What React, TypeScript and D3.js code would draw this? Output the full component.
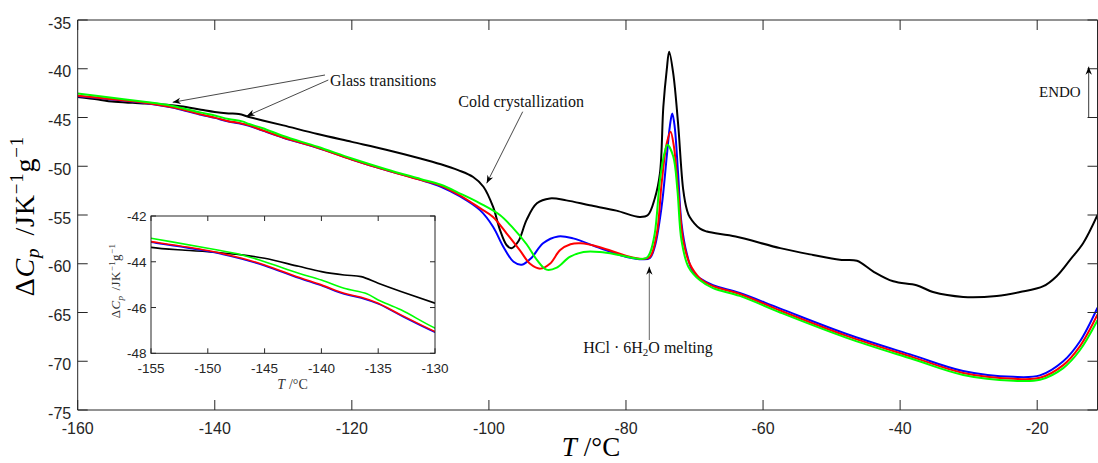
import React from "react";
import * as d3 from "d3";

// ---------- data ----------
const xTicks = [-160, -140, -120, -100, -80, -60, -40, -20];
const yTicks = [-75, -70, -65, -60, -55, -50, -45, -40, -35];
const insetXTicks = [-155, -150, -145, -140, -135, -130];
const insetYTicks = [-48, -46, -44, -42];

const blackT = [-160, -157, -155, -152, -150, -147, -145, -142, -140, -138, -136.5, -135, -133, -130, -125, -120, -115, -110, -107, -104.5, -102.3, -100.8, -99.4, -98.4, -97.4, -96.7, -95.7, -94.5, -93.0, -91.1, -88.7, -85.3, -81.4, -78.0, -76.8, -75.8, -75.04, -74.55, -74.05, -73.7, -73.1, -72.4, -71.65, -71.1, -70.7, -69.2, -68.2, -64.0, -57.5, -52.7, -48.8, -46.3, -43.9, -41.0, -37.6, -35.2, -30.8, -25.9, -22.5, -19.1, -17.2, -15.2, -13.3, -11.2];
const blackCp = [-42.9, -43.15, -43.37, -43.5, -43.56, -43.7, -43.85, -44.2, -44.43, -44.58, -44.65, -44.94, -45.3, -45.81, -46.7, -47.5, -48.3, -49.2, -49.8, -50.4, -51.1, -52.1, -54.15, -56.5, -58.1, -58.4, -57.7, -55.5, -53.8, -53.3, -53.5, -54.0, -54.55, -55.2, -55.0, -53.3, -50.7, -43.9, -40.1, -38.25, -40.5, -45.6, -52.4, -54.5, -55.2, -56.4, -56.7, -57.2, -58.4, -59.1, -59.6, -59.7, -60.8, -61.8, -62.2, -62.9, -63.4, -63.3, -62.9, -62.3, -61.3, -59.6, -57.9, -55.0];

const blueT = [-160, -155, -150, -147, -145, -142, -140, -138, -136.5, -135, -133, -130, -125, -120, -115, -110, -107, -104.2, -101.3, -99.4, -97.9, -96.4, -95.2, -93.8, -92.1, -89.9, -87.7, -83.8, -79.9, -77.5, -76.5, -75.8, -74.8, -74.05, -73.6, -73.25, -72.9, -72.4, -71.9, -71.15, -70.2, -69.2, -67.3, -63.4, -57.5, -47.8, -38.1, -30.8, -23.5, -19.6, -16.2, -13.8, -11.2];
const blueCp = [-42.82, -43.15, -43.54, -43.88, -44.17, -44.71, -45.04, -45.41, -45.58, -45.84, -46.35, -47.08, -48.1, -49.3, -50.4, -51.4, -52.1, -53.1, -54.5, -56.2, -58.25, -59.8, -60.1, -59.4, -57.9, -57.2, -57.4, -58.4, -59.3, -59.55, -59.4, -58.25, -54.15, -49.0, -45.9, -44.6, -45.9, -50.7, -55.85, -58.9, -60.9, -61.5, -62.2, -63.0, -64.6, -67.2, -69.4, -71.0, -71.6, -71.45, -70.0, -68.0, -64.5];

const redT = [-160, -155, -150, -147, -145, -142, -140, -138, -136.5, -135, -133, -130, -125, -120, -115, -110, -107, -104.2, -101.3, -99.4, -97.4, -95.5, -94.0, -92.5, -91.1, -89.6, -88.1, -86.6, -83.8, -79.9, -77.5, -76.5, -75.5, -74.8, -74.05, -73.5, -73.0, -72.4, -71.65, -70.7, -69.2, -67.3, -63.4, -57.5, -47.8, -38.1, -30.8, -23.5, -19.6, -16.2, -13.8, -11.2];
const redCp = [-42.78, -43.12, -43.51, -43.85, -44.14, -44.68, -45.01, -45.38, -45.55, -45.81, -46.32, -47.05, -48.1, -49.3, -50.4, -51.4, -52.0, -53.0, -54.3, -55.2, -56.9, -58.6, -60.0, -60.5, -60.0, -58.6, -58.0, -57.9, -58.3, -59.2, -59.5, -59.3, -56.9, -51.75, -47.65, -46.45, -48.0, -52.4, -57.6, -60.0, -61.5, -62.3, -63.1, -64.8, -67.4, -69.6, -71.2, -71.8, -71.7, -70.4, -68.5, -65.2];

const greenT = [-160, -155, -150, -147, -145, -142, -140, -138, -136, -135, -133, -130, -125, -120, -115, -110, -107, -104.2, -101.3, -98.4, -96.4, -94.5, -93.0, -91.6, -90.1, -88.2, -86.2, -83.8, -81.0, -78.0, -77.0, -76.5, -75.8, -75.04, -74.4, -73.95, -73.1, -72.5, -71.9, -70.9, -69.2, -67.3, -63.4, -57.5, -47.8, -38.1, -30.8, -23.5, -19.6, -16.2, -13.8, -11.2];
const greenCp = [-42.55, -42.97, -43.41, -43.7, -44.0, -44.5, -44.8, -45.16, -45.4, -45.67, -46.1, -46.9, -48.0, -49.2, -50.3, -51.3, -51.9, -52.8, -53.8, -55.0, -56.4, -58.0, -59.6, -60.6, -60.4, -59.3, -58.8, -58.8, -59.1, -59.5, -59.4, -58.9, -56.9, -51.4, -48.7, -47.8, -49.0, -52.4, -57.6, -60.3, -61.7, -62.5, -63.3, -65.0, -67.6, -69.8, -71.4, -72.0, -71.9, -70.7, -68.9, -65.8];

const series = [
  { name: "black", T: blackT, v: blackCp, color: "#000000" },
  { name: "blue", T: blueT, v: blueCp, color: "#0000ff" },
  { name: "red", T: redT, v: redCp, color: "#ff0000" },
  { name: "green", T: greenT, v: greenCp, color: "#00ff00" },
];

// ---------- layout ----------
const W = 1098;
const H = 463;
const AX = "#262626";
const SANS = "Liberation Sans, Arial, Helvetica, sans-serif";
const SERIF = "Liberation Serif, Times New Roman, serif";

function arrowHead(x1: number, y1: number, x2: number, y2: number, len = 8, w = 3.2) {
  const dx = x2 - x1, dy = y2 - y1;
  const L = Math.hypot(dx, dy);
  const ux = dx / L, uy = dy / L;
  const nx = -uy, ny = ux;
  const bx = x2 - ux * len, by = y2 - uy * len;
  const nbx = x2 - ux * len * 0.7, nby = y2 - uy * len * 0.7;
  return `M${x2},${y2}L${bx + nx * w},${by + ny * w}L${nbx},${nby}L${bx - nx * w},${by - ny * w}Z`;
}

function Arrow({ x1, y1, x2, y2, color = "#333" }: any) {
  return (
    <g>
      <line x1={x1} y1={y1} x2={x2} y2={y2} stroke={color} strokeWidth={0.9} />
      <path d={arrowHead(x1, y1, x2, y2)} fill="#000" />
    </g>
  );
}

export default function App() {
  const x = d3.scaleLinear().domain([-160, -11.2]).range([77.7, 1097.5]);
  const y = d3.scaleLinear().domain([-75, -35]).range([410, 20]);
  const xi = d3.scaleLinear().domain([-155, -130]).range([151, 435]);
  const yi = d3.scaleLinear().domain([-48, -42]).range([353.3, 216]);

  const [x0, x1] = x.range();
  const [yb, yt] = y.range();
  const [ix0, ix1] = xi.range();
  const [iyb, iyt] = yi.range();

  const pathFor = (s: any, sx: any, sy: any) => {
    const pts: [number, number][] = s.T.map((t: number, i: number) => [sx(t), sy(s.v[i])]);
    return d3.line().curve(d3.curveCatmullRom.alpha(0.5))(pts) || "";
  };

  const tickLen = 10;
  const itick = 5;

  return (
    <svg
      width={W}
      height={H}
      style={{ position: "absolute", left: 0, top: 0, background: "#fff" }}
      xmlns="http://www.w3.org/2000/svg"
    >
      <rect x={0} y={0} width={W} height={H} fill="#fff" />
      <defs>
        <clipPath id="mainClip">
          <rect x={x0} y={yt} width={x1 - x0} height={yb - yt} />
        </clipPath>
        <clipPath id="insetClip">
          <rect x={ix0} y={iyt} width={ix1 - ix0} height={iyb - iyt} />
        </clipPath>
      </defs>

      {/* main curves */}
      <g clipPath="url(#mainClip)">
        {series.map((s) => (
          <path key={s.name} d={pathFor(s, x, y)} fill="none" stroke={s.color} strokeWidth={2} strokeLinejoin="round" />
        ))}
      </g>

      {/* main axes box */}
      <g stroke={AX} strokeWidth={1} fill="none">
        <line x1={x0} y1={yb} x2={x1} y2={yb} />
        <line x1={x0} y1={yt} x2={x1} y2={yt} />
        <line x1={x0} y1={yt} x2={x0} y2={yb} />
        <line x1={x1} y1={yt} x2={x1} y2={yb} />
        {xTicks.map((t) => (
          <g key={"xt" + t}>
            <line x1={x(t)} y1={yb} x2={x(t)} y2={yb - tickLen} />
            <line x1={x(t)} y1={yt} x2={x(t)} y2={yt + tickLen} />
          </g>
        ))}
        {yTicks.map((t) => (
          <g key={"yt" + t}>
            <line x1={x0} y1={y(t)} x2={x0 + tickLen} y2={y(t)} />
            <line x1={x1} y1={y(t)} x2={x1 - tickLen} y2={y(t)} />
          </g>
        ))}
      </g>
      <g fill={AX} fontFamily={SANS} fontSize={16}>
        {xTicks.map((t) => (
          <text key={"xl" + t} x={x(t)} y={yb + 23.5} textAnchor="middle">
            {String(t)}
          </text>
        ))}
        {yTicks.map((t) => (
          <text key={"yl" + t} x={x0 - 6.5} y={y(t) + 8.5} textAnchor="end">
            {String(t)}
          </text>
        ))}
      </g>

      {/* axis labels */}
      <text x={591} y={456} textAnchor="middle" fontFamily={SERIF} fontSize={27} fill="#000">
        <tspan fontStyle="italic">T</tspan>
        <tspan dx={7}>/°C</tspan>
      </text>
      <text transform="translate(34,216) rotate(-90)" textAnchor="middle" fontFamily={SERIF} fontSize={28} fill="#000" letterSpacing={0.8}>
        <tspan>Δ</tspan>
        <tspan fontStyle="italic">C</tspan>
        <tspan fontStyle="italic" fontSize={19} dy={5}>p</tspan>
        <tspan dy={-5} dx={12}>/JK</tspan>
        <tspan fontSize={19} dy={-11}>−1</tspan>
        <tspan dy={11}>g</tspan>
        <tspan fontSize={19} dy={-11}>−1</tspan>
      </text>

      {/* annotations */}
      <text x={330} y={86} fontFamily={SERIF} fontSize={16} fill="#111">Glass transitions</text>
      <Arrow x1={325} y1={75} x2={172.7} y2={102.3} />
      <Arrow x1={328.3} y1={80} x2={246.7} y2={116} />

      <text x={458.3} y={106.7} fontFamily={SERIF} fontSize={16} fill="#111">Cold crystallization</text>
      <Arrow x1={522.7} y1={111.7} x2={486.7} y2={183.3} />

      <text x={583.3} y={353.3} fontFamily={SERIF} fontSize={16} fill="#111">
        HCl · 6H
        <tspan fontSize={11} dy={3}>2</tspan>
        <tspan dy={-3}>O melting</tspan>
      </text>
      <Arrow x1={649.3} y1={340} x2={649.3} y2={266.7} color="#555" />

      <text x={1039} y={97.3} fontFamily={SERIF} fontSize={15} fill="#111">ENDO</text>
      <Arrow x1={1088.7} y1={117.3} x2={1088.7} y2={66.7} color="#222" />

      {/* inset */}
      <rect x={ix0} y={iyt} width={ix1 - ix0} height={iyb - iyt} fill="#fff" />
      <g clipPath="url(#insetClip)">
        {series.map((s) => (
          <path key={"i" + s.name} d={pathFor(s, xi, yi)} fill="none" stroke={s.color} strokeWidth={1.6} strokeLinejoin="round" />
        ))}
      </g>
      <g stroke={AX} strokeWidth={1} fill="none">
        <rect x={ix0} y={iyt} width={ix1 - ix0} height={iyb - iyt} />
        {insetXTicks.map((t) => (
          <g key={"ixt" + t}>
            <line x1={xi(t)} y1={iyb} x2={xi(t)} y2={iyb - itick} />
            <line x1={xi(t)} y1={iyt} x2={xi(t)} y2={iyt + itick} />
          </g>
        ))}
        {insetYTicks.map((t) => (
          <g key={"iyt" + t}>
            <line x1={ix0} y1={yi(t)} x2={ix0 + itick} y2={yi(t)} />
            <line x1={ix1} y1={yi(t)} x2={ix1 - itick} y2={yi(t)} />
          </g>
        ))}
      </g>
      <g fill={AX} fontFamily={SANS} fontSize={13.5}>
        {insetXTicks.map((t) => (
          <text key={"ixl" + t} x={xi(t)} y={iyb + 19.5} textAnchor="middle">
            {String(t)}
          </text>
        ))}
        {insetYTicks.map((t) => (
          <text key={"iyl" + t} x={ix0 - 4.5} y={yi(t) + 5} textAnchor="end">
            {String(t)}
          </text>
        ))}
      </g>
      <text x={292.5} y={389} textAnchor="middle" fontFamily={SERIF} fontSize={14} fill="#333">
        <tspan fontStyle="italic">T</tspan>
        <tspan dx={4}>/°C</tspan>
      </text>
      <text transform="translate(120,281) rotate(-90)" textAnchor="middle" fontFamily={SERIF} fontSize={13} fill="#333" letterSpacing={0.4}>
        <tspan>Δ</tspan>
        <tspan fontStyle="italic">C</tspan>
        <tspan fontStyle="italic" fontSize={9} dy={3}>p</tspan>
        <tspan dy={-3} dx={5}>/JK</tspan>
        <tspan fontSize={9} dy={-5}>−1</tspan>
        <tspan dy={5}>g</tspan>
        <tspan fontSize={9} dy={-5}>−1</tspan>
      </text>
    </svg>
  );
}
